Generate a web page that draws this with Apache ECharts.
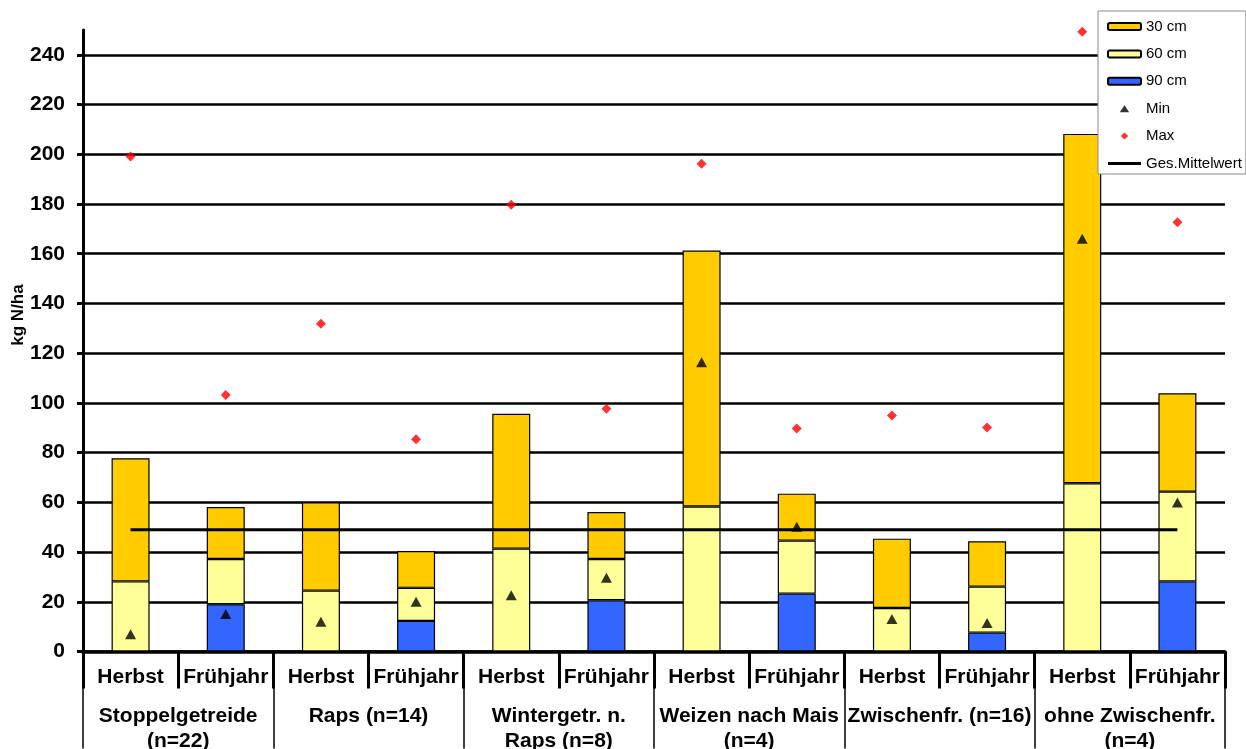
<!DOCTYPE html>
<html>
<head>
<meta charset="utf-8">
<script src="https://cdn.jsdelivr.net/npm/echarts@6/dist/echarts.min.js"></script>
<style>
  html, body { margin: 0; padding: 0; background: #fff; }
  #chart { width: 1246px; height: 749px; }
</style>
</head>
<body>
<div id="chart"></div>
<script>
// Sampling dates per crop group
const seasons = ['Herbst', 'Frühjahr', 'Herbst', 'Frühjahr', 'Herbst', 'Frühjahr',
                 'Herbst', 'Frühjahr', 'Herbst', 'Frühjahr', 'Herbst', 'Frühjahr'];
const groups = ['Stoppelgetreide\n(n=22)', 'Raps (n=14)', 'Wintergetr. n.\nRaps (n=8)',
                'Weizen nach Mais\n(n=4)', 'Zwischenfr. (n=16)', 'ohne Zwischenfr.\n(n=4)'];

// Nmin per soil layer (kg N/ha), stacked 90 cm at the bottom
const layer90 = [null, 19.0, null, 12.3, null, 20.6, null, 23.3, null, 7.6, null, 28.2];
const layer60 = [28.2, 18.2, 24.5, 13.3, 41.4, 16.6, 58.3, 21.3, 17.5, 18.5, 67.7, 36.1];
const layer30 = [49.5, 20.9, 35.5, 14.8, 54.2, 18.9, 103.0, 18.9, 27.9, 18.2, 140.5, 39.6];

// Range of single sites
const minValues = [6.9, 15.1, 12.0, 20.0, 22.6, 29.7, 116.4, 50.2, 13.1, 11.5, 166.0, 59.9];
const maxValues = [199.1, 103.2, 131.8, 85.4, 179.7, 97.6, 196.2, 89.7, 94.9, 90.1, 249.3, 172.7];

// Overall mean
const meanValues = [49, 49, 49, 49, 49, 49, 49, 49, 49, 49, 49, 49];

// Value axis ticks
const yTicks = [0, 20, 40, 60, 80, 100, 120, 140, 160, 180, 200, 220, 240];

const FONT = "'Liberation Sans', Arial, sans-serif";

// Legend icons laid out in a 33x7 box; the two degenerate corner points keep
// the box size so the marker is not stretched across the icon width.
const ICON_FRAME = 'M0,0L0.01,0ZM33,7L33.01,7Z';
const iconTriangle = 'path://' + ICON_FRAME + 'M11.8,7L16.5,0L21.2,7Z';
const iconDiamond = 'path://' + ICON_FRAME + 'M16.5,-0.2L20.4,3.5L16.5,7.2L12.6,3.5Z';
const iconLine = 'path://' + ICON_FRAME + 'M0,2L33,2L33,5L0,5Z';

const chart = echarts.init(document.getElementById('chart'), null, { renderer: 'canvas' });

const barBorder = { borderColor: '#000', borderWidth: 1.2 };

chart.setOption({
  animation: false,
  backgroundColor: '#fff',
  textStyle: { fontFamily: FONT },
  grid: { left: 83, right: 21, top: 30, bottom: 97.5, containLabel: false, outerBoundsMode: 'none' },
  legend: {
    orient: 'vertical',
    left: 1098,
    top: 11,
    padding: [8, 4, 3, 9],
    itemWidth: 33,
    itemHeight: 7,
    itemGap: 12.4,
    backgroundColor: '#fff',
    borderColor: '#8c8c8c',
    borderWidth: 1,
    textStyle: { fontFamily: FONT, fontSize: 15, color: '#000' },
    data: [
      '30 cm', '60 cm', '90 cm',
      { name: 'Min', icon: iconTriangle },
      { name: 'Max', icon: iconDiamond },
      { name: 'Ges.Mittelwert', icon: iconLine }
    ]
  },
  xAxis: [
    {
      type: 'category',
      data: seasons,
      position: 'bottom',
      boundaryGap: true,
      axisLine: { show: true, lineStyle: { color: '#000', width: 3.5 } },
      axisTick: { show: true, alignWithLabel: false, interval: 0, length: 37, lineStyle: { color: '#000', width: 3 } },
      axisLabel: { interval: 0, margin: 15, color: '#000', fontFamily: FONT, fontSize: 21, fontWeight: 'bold' },
      splitLine: { show: false }
    },
    {
      type: 'category',
      data: groups,
      position: 'bottom',
      boundaryGap: true,
      axisLine: { show: false },
      axisTick: { show: true, alignWithLabel: false, interval: 0, length: 97, lineStyle: { color: '#000', width: 1.5 } },
      axisLabel: { interval: 0, margin: 52, hideOverlap: false, color: '#000', fontFamily: FONT, fontSize: 21, fontWeight: 'bold', lineHeight: 25 },
      splitLine: { show: false }
    }
  ],
  yAxis: {
    type: 'value',
    min: 0,
    max: 250,
    axisLine: { show: true, lineStyle: { color: '#000', width: 3 } },
    axisTick: { show: true, length: 6, customValues: yTicks, lineStyle: { color: '#000', width: 3 } },
    axisLabel: { customValues: yTicks, margin: 18, color: '#000', fontFamily: FONT, fontSize: 21, fontWeight: 'bold' },
    splitLine: { show: true, lineStyle: { color: '#000', width: 2.5 } }
  },
  graphic: [
    {
      type: 'text',
      x: 18,
      y: 315,
      rotation: Math.PI / 2,
      style: { text: 'kg N/ha', font: 'bold 17px ' + FONT, fill: '#000', textAlign: 'center', textVerticalAlign: 'middle' }
    }
  ],
  series: [
    { name: '90 cm', type: 'bar', stack: 'n', data: layer90, barWidth: 38, itemStyle: Object.assign({ color: '#3366FF' }, barBorder) },
    { name: '60 cm', type: 'bar', stack: 'n', data: layer60, barWidth: 38, itemStyle: Object.assign({ color: '#FFFF99' }, barBorder) },
    { name: '30 cm', type: 'bar', stack: 'n', data: layer30, barWidth: 38, itemStyle: Object.assign({ color: '#FFCC00' }, barBorder) },
    {
      name: 'Ges.Mittelwert', type: 'line', data: meanValues, symbol: 'none', z: 4,
      lineStyle: { color: '#000', width: 3 }, itemStyle: { color: '#000' }
    },
    { name: 'Min', type: 'scatter', data: minValues, symbol: 'triangle', symbolSize: [11, 10], z: 5, itemStyle: { color: '#000' } },
    { name: 'Max', type: 'scatter', data: maxValues, symbol: 'diamond', symbolSize: 10, z: 5, itemStyle: { color: '#FF0000' } }
  ]
});
</script>
</body>
</html>
